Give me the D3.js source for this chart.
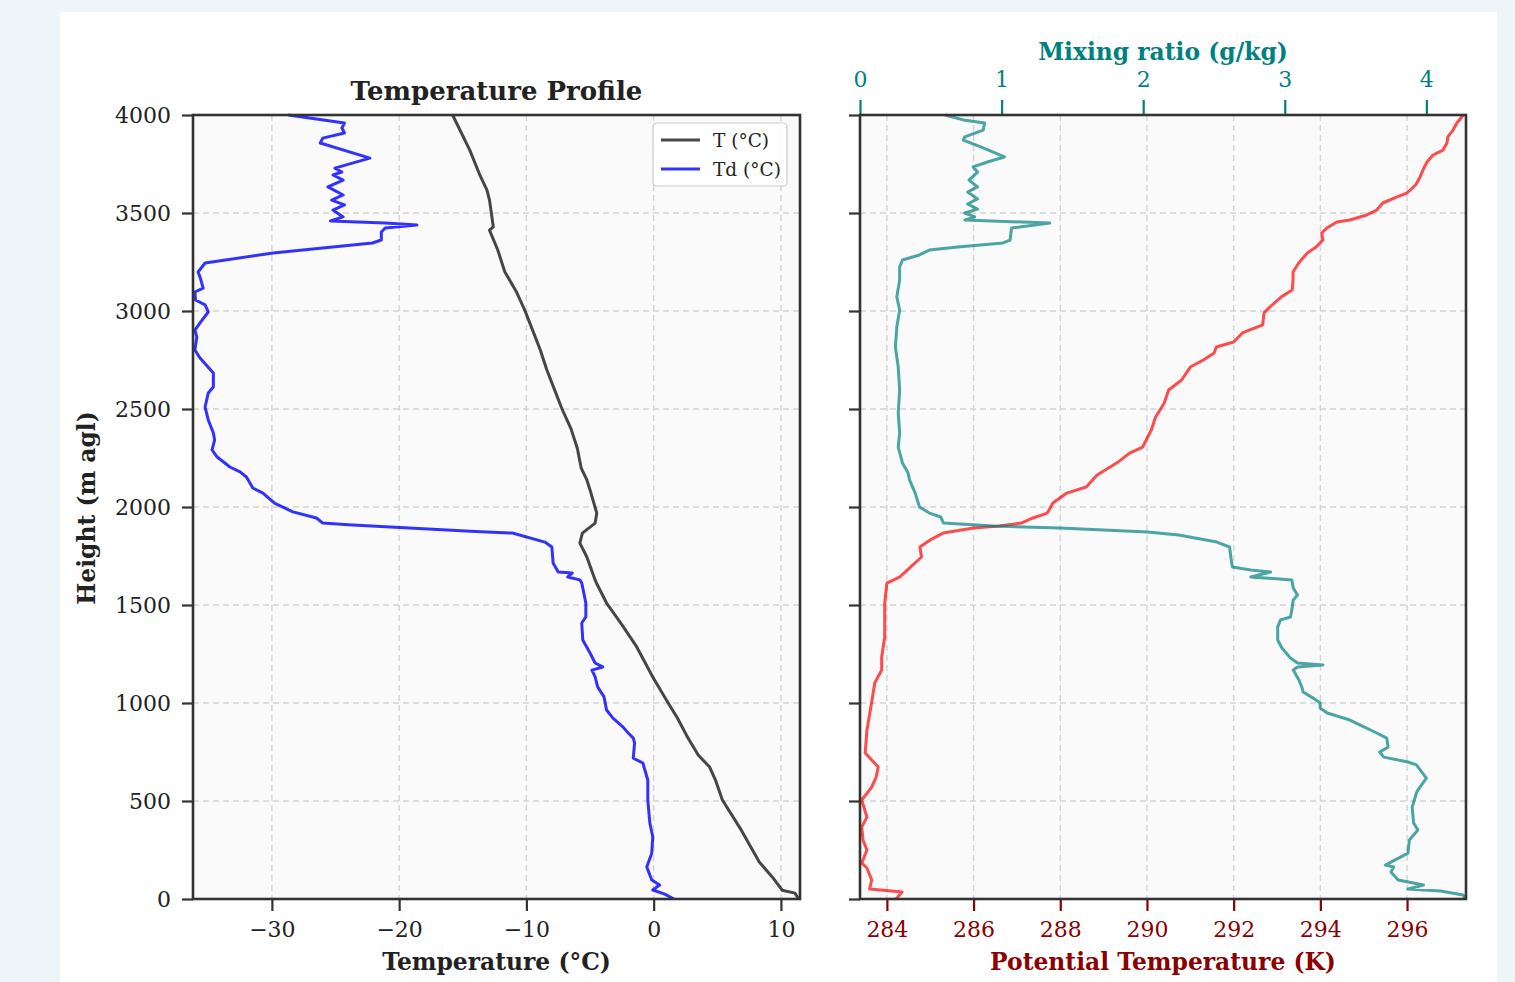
<!DOCTYPE html>
<html>
<head>
<meta charset="utf-8">
<script src="https://cdn.jsdelivr.net/npm/d3@7"></script>
<style>
  body { margin: 0; background: #edf5f8; }
  svg { display: block; }
  text { font-family: "DejaVu Serif", serif; }
</style>
</head>
<body>
<svg></svg>
<script>
// sounding data: [height m, value]
const tempProfile = [[0,11.4],[30,11.1],[45,10.1],[110,9.35],[189,8.3],[350,6.9],[505,5.4],[600,4.9],[673,4.4],[735,3.5],[821,2.7],[920,1.9],[1015,1.0],[1133,-0.07],[1286,-1.33],[1400,-2.5],[1510,-3.7],[1612,-4.5],[1628,-4.6],[1745,-5.25],[1816,-5.8],[1867,-5.6],[1918,-4.6],[1969,-4.47],[2087,-5.0],[2138,-5.25],[2200,-5.7],[2300,-6.0],[2400,-6.5],[2500,-7.2],[2600,-7.8],[2700,-8.4],[2800,-8.9],[2900,-9.5],[3000,-10.1],[3100,-10.8],[3200,-11.7],[3311,-12.25],[3413,-12.9],[3429,-12.6],[3566,-12.9],[3617,-13.1],[3700,-13.7],[3821,-14.45],[4000,-15.8]];

const dewProfile = [[0,1.6],[25,0.87],[46,-0.07],[71,0.47],[97,-0.15],[163,-0.54],[234,-0.15],[316,-0.07],[388,-0.3],[505,-0.46],[607,-0.46],[694,-0.85],[719,-1.6],[796,-1.5],[821,-1.6],[847,-2.0],[877,-2.4],[923,-3.2],[964,-3.7],[1031,-3.9],[1082,-4.4],[1133,-4.6],[1168,-4.85],[1184,-4.0],[1204,-4.6],[1255,-5.0],[1321,-5.57],[1408,-5.65],[1439,-5.33],[1510,-5.33],[1612,-5.65],[1628,-5.8],[1643,-6.75],[1663,-6.4],[1668,-7.5],[1714,-7.9],[1796,-8.0],[1821,-8.55],[1867,-11.1],[1875,-14],[1898,-20.7],[1910,-24],[1918,-26.0],[1944,-26.5],[1949,-26.8],[1975,-28.35],[2020,-29.8],[2071,-30.7],[2097,-31.5],[2153,-32.0],[2179,-32.5],[2204,-33.3],[2255,-34.3],[2291,-34.7],[2342,-34.5],[2378,-34.6],[2444,-35.0],[2510,-35.25],[2582,-35.0],[2612,-34.6],[2684,-34.6],[2760,-35.65],[2801,-36.05],[2867,-35.9],[2903,-36.05],[2939,-35.65],[2995,-35.0],[3031,-35.25],[3056,-36.0],[3097,-36.05],[3117,-35.4],[3174,-35.65],[3199,-35.8],[3245,-35.25],[3296,-29.9],[3347,-22.1],[3362,-21.4],[3403,-21.4],[3423,-21.1],[3439,-18.6],[3449,-21.1],[3459,-25.4],[3480,-24.4],[3515,-25.2],[3541,-24.3],[3566,-25.3],[3592,-24.4],[3633,-25.6],[3668,-24.4],[3694,-25.2],[3709,-24.5],[3729,-25.05],[3780,-22.3],[3857,-26.2],[3882,-26.0],[3908,-24.3],[3934,-24.5],[3959,-24.3],[4000,-28.7]];

const thetaProfile = [[0,284.2],[10,284.25],[36,284.35],[51,283.6],[97,283.65],[158,283.54],[184,283.42],[250,283.54],[300,283.45],[367,283.42],[418,283.54],[505,283.42],[571,283.65],[620,283.75],[673,283.8],[745,283.5],[862,283.54],[1005,283.65],[1102,283.72],[1168,283.88],[1235,283.88],[1337,283.95],[1510,283.95],[1612,284.0],[1643,284.3],[1694,284.55],[1745,284.8],[1796,284.76],[1832,285.0],[1867,285.3],[1893,286.0],[1903,286.6],[1918,287.1],[1944,287.37],[1969,287.7],[2020,287.83],[2071,288.15],[2102,288.6],[2163,288.85],[2224,289.3],[2275,289.6],[2306,289.9],[2393,290.1],[2459,290.2],[2531,290.4],[2597,290.5],[2648,290.8],[2714,291.0],[2750,291.3],[2786,291.55],[2816,291.6],[2842,292.0],[2888,292.2],[2929,292.67],[2990,292.7],[3021,292.84],[3072,293.1],[3107,293.35],[3158,293.37],[3199,293.37],[3245,293.5],[3296,293.7],[3326,293.9],[3362,294.06],[3398,294.03],[3423,294.15],[3454,294.38],[3464,294.68],[3490,295.07],[3515,295.3],[3551,295.44],[3582,295.77],[3602,296.0],[3643,296.2],[3684,296.3],[3735,296.4],[3760,296.46],[3796,296.6],[3821,296.83],[3857,296.92],[3888,296.94],[3923,297.06],[3959,297.15],[3990,297.26],[4000,297.3]];

const mixingProfile = [[0,4.28],[20,4.26],[41,4.1],[51,3.87],[71,3.98],[97,3.8],[138,3.75],[163,3.77],[173,3.71],[234,3.87],[301,3.88],[352,3.94],[388,3.91],[469,3.9],[541,3.93],[556,3.94],[617,4.0],[684,3.93],[699,3.87],[724,3.7],[750,3.67],[775,3.73],[821,3.72],[847,3.65],[888,3.53],[913,3.46],[949,3.3],[974,3.25],[1000,3.25],[1025,3.2],[1056,3.13],[1082,3.12],[1117,3.1],[1168,3.06],[1184,3.09],[1194,3.27],[1204,3.09],[1230,3.04],[1281,2.98],[1321,2.95],[1388,2.95],[1424,2.97],[1439,3.04],[1474,3.05],[1526,3.06],[1551,3.09],[1587,3.06],[1628,3.05],[1643,2.76],[1668,2.9],[1679,2.76],[1694,2.63],[1740,2.62],[1796,2.61],[1821,2.52],[1857,2.25],[1872,2.03],[1893,1.41],[1903,0.94],[1918,0.59],[1949,0.57],[1969,0.49],[2000,0.42],[2071,0.39],[2138,0.35],[2173,0.34],[2224,0.3],[2306,0.27],[2378,0.28],[2480,0.27],[2597,0.28],[2714,0.27],[2816,0.25],[2918,0.26],[3005,0.28],[3072,0.26],[3158,0.28],[3225,0.28],[3260,0.3],[3286,0.42],[3311,0.49],[3326,0.69],[3347,1.01],[3362,1.06],[3423,1.07],[3449,1.34],[3464,0.74],[3480,0.81],[3500,0.74],[3520,0.83],[3546,0.76],[3572,0.83],[3607,0.76],[3633,0.83],[3668,0.77],[3709,0.83],[3735,0.8],[3760,0.9],[3786,1.02],[3832,0.87],[3872,0.73],[3888,0.74],[3923,0.87],[3959,0.88],[3975,0.73],[4000,0.6]];

const heightTicks = [0, 500, 1000, 1500, 2000, 2500, 3000, 3500, 4000];
const tempTicks = [-30, -20, -10, 0, 10];
const thetaTicks = [284, 286, 288, 290, 292, 294, 296];
const mixingTicks = [0, 1, 2, 3, 4];

const svgWidth = 1515, svgHeight = 982;
const plotTop = 115, plotBottom = 899;
const left1 = 193, right1 = 800;
const left2 = 860, right2 = 1466;
const spine = "#333";
const teal = "#008080", darkRed = "#8b0000";

const svg = d3.select("svg").attr("width", svgWidth).attr("height", svgHeight);

// white card
svg.append("rect").attr("x", 60).attr("y", 12).attr("width", 1437).attr("height", 975).attr("fill", "#fff");

const y = d3.scaleLinear().domain([0, 4000]).range([plotBottom, plotTop]);
const xT = d3.scaleLinear().domain([-36.2, 11.5]).range([left1, right1]);
const xTheta = d3.scaleLinear().domain([283.38, 297.36]).range([left2, right2]);
const xMix = d3.scaleLinear().domain([0, 4.28]).range([left2, right2]);

function panel(x0, x1) {
  svg.append("rect").attr("x", x0).attr("y", plotTop).attr("width", x1 - x0).attr("height", plotBottom - plotTop).attr("fill", "#fafafa");
}
panel(left1, right1);
panel(left2, right2);

function grid(xs, xScale, x0, x1) {
  const g = svg.append("g").attr("stroke", "#d3d3d3").attr("stroke-width", 1.4).attr("stroke-dasharray", "6,4");
  g.selectAll(".v").data(xs).join("line")
    .attr("x1", d => xScale(d)).attr("x2", d => xScale(d))
    .attr("y1", plotTop).attr("y2", plotBottom);
  g.selectAll(".h").data(heightTicks).join("line")
    .attr("x1", x0).attr("x2", x1)
    .attr("y1", d => y(d)).attr("y2", d => y(d));
}
grid(tempTicks, xT, left1, right1);
grid(thetaTicks, xTheta, left2, right2);

function profile(data, xScale, color, op) {
  const line = d3.line().x(d => xScale(d[1])).y(d => y(d[0]));
  svg.append("path").datum(data).attr("d", line)
    .attr("fill", "none").attr("stroke", color).attr("stroke-opacity", op)
    .attr("stroke-width", 3).attr("stroke-linejoin", "round");
}
profile(tempProfile, xT, "#000", 0.72);
profile(dewProfile, xT, "#0000ff", 0.8);
profile(thetaProfile, xTheta, "#ff0000", 0.7);
profile(mixingProfile, xMix, teal, 0.7);

function styleAxis(g, color) {
  g.select(".domain").remove();
  g.selectAll(".tick line").attr("stroke", color).attr("stroke-width", 2.2);
  g.selectAll(".tick text").attr("fill", color).attr("font-size", 22).attr("font-family", "DejaVu Serif");
}

// left panel axes
const axL = svg.append("g").attr("transform", `translate(${left1},0)`)
  .call(d3.axisLeft(y).tickValues(heightTicks).tickSize(11).tickPadding(11).tickFormat(d3.format("d")));
styleAxis(axL, spine);
axL.selectAll(".tick text").attr("fill", "#222");
const axB = svg.append("g").attr("transform", `translate(0,${plotBottom})`)
  .call(d3.axisBottom(xT).tickValues(tempTicks).tickSize(12).tickPadding(10));
styleAxis(axB, spine);
axB.selectAll(".tick text").attr("fill", "#222");

// right panel axes
const axL2 = svg.append("g").attr("transform", `translate(${left2},0)`)
  .call(d3.axisLeft(y).tickValues(heightTicks).tickSize(11).tickFormat(""));
styleAxis(axL2, spine);
const axB2 = svg.append("g").attr("transform", `translate(0,${plotBottom})`)
  .call(d3.axisBottom(xTheta).tickValues(thetaTicks).tickSize(12).tickPadding(10));
styleAxis(axB2, darkRed);
const axT2 = svg.append("g").attr("transform", `translate(0,${plotTop})`)
  .call(d3.axisTop(xMix).tickValues(mixingTicks).tickSize(15).tickPadding(13).tickFormat(d3.format("d")));
styleAxis(axT2, teal);

// spines
[[left1, right1], [left2, right2]].forEach(([a, b]) => {
  svg.append("rect").attr("x", a).attr("y", plotTop).attr("width", b - a).attr("height", plotBottom - plotTop)
    .attr("fill", "none").attr("stroke", spine).attr("stroke-width", 2.6);
});

// titles and labels
svg.append("text").attr("x", (left1 + right1) / 2).attr("y", 100).attr("text-anchor", "middle")
  .attr("font-size", 26).attr("font-weight", "bold").attr("fill", "#222").text("Temperature Profile");
svg.append("text").attr("x", (left2 + right2) / 2).attr("y", 60).attr("text-anchor", "middle")
  .attr("font-size", 23.4).attr("font-weight", "bold").attr("fill", teal).text("Mixing ratio (g/kg)");
svg.append("text").attr("x", (left1 + right1) / 2).attr("y", 970).attr("text-anchor", "middle")
  .attr("font-size", 23.4).attr("font-weight", "bold").attr("fill", "#222").text("Temperature (°C)");
svg.append("text").attr("x", (left2 + right2) / 2).attr("y", 970).attr("text-anchor", "middle")
  .attr("font-size", 23.4).attr("font-weight", "bold").attr("fill", darkRed).text("Potential Temperature (K)");
svg.append("text").attr("transform", `translate(95,${(plotTop + plotBottom) / 2 + 1}) rotate(-90)`).attr("text-anchor", "middle")
  .attr("font-size", 23.4).attr("font-weight", "bold").attr("fill", "#222").text("Height (m agl)");

// legend
const legendItems = ["T (°C)", "Td (°C)"];
const legendColors = [["#000", 0.72], ["#0000ff", 0.8]];
const lg = svg.append("g").attr("transform", "translate(653,123)");
lg.append("rect").attr("width", 134).attr("height", 63).attr("rx", 4)
  .attr("fill", "#fff").attr("fill-opacity", 0.85).attr("stroke", "#ccc").attr("stroke-width", 1.2);
legendItems.forEach((t, i) => {
  lg.append("line").attr("x1", 8).attr("x2", 47).attr("y1", 17 + i * 29).attr("y2", 17 + i * 29)
    .attr("stroke", legendColors[i][0]).attr("stroke-opacity", legendColors[i][1]).attr("stroke-width", 3);
  lg.append("text").attr("x", 60).attr("y", 23.5 + i * 29).attr("font-size", 18.5).attr("fill", "#222").text(t);
});
</script>
</body>
</html>
